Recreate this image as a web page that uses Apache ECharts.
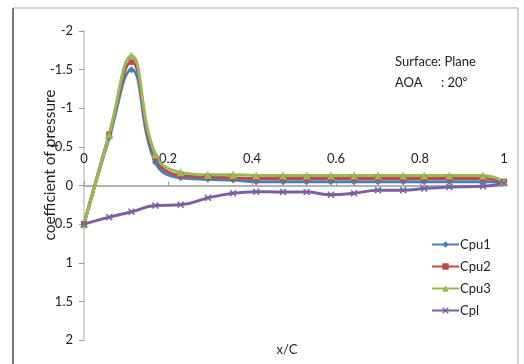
<!DOCTYPE html>
<html><head><meta charset="utf-8">
<script src="https://cdn.jsdelivr.net/npm/echarts@6/dist/echarts.min.js"></script>
<style>html,body{margin:0;padding:0;background:#fff}#c{width:524px;height:364px}</style>
</head><body><div id="c"></div>
<script>
const xPos = [0, 0.06, 0.113, 0.17, 0.23, 0.295, 0.355, 0.41, 0.474, 0.53, 0.588, 0.643, 0.70, 0.76, 0.81, 0.87, 0.95, 1.0];
const cpu1 = [0.5, -0.62, -1.5, -0.30, -0.10, -0.08, -0.07, -0.05, -0.05, -0.05, -0.05, -0.05, -0.05, -0.05, -0.05, -0.05, -0.05, -0.05];
const cpu2 = [0.5, -0.66, -1.6, -0.36, -0.13, -0.11, -0.10, -0.09, -0.09, -0.09, -0.09, -0.09, -0.09, -0.09, -0.09, -0.09, -0.09, -0.05];
const cpu3 = [0.5, -0.66, -1.68, -0.40, -0.17, -0.14, -0.14, -0.13, -0.13, -0.13, -0.13, -0.13, -0.13, -0.13, -0.13, -0.13, -0.13, -0.05];
const cpl  = [0.5, 0.41, 0.34, 0.26, 0.25, 0.16, 0.10, 0.08, 0.085, 0.085, 0.12, 0.10, 0.06, 0.06, 0.04, 0.02, 0.01, -0.03];
const xTicks = ['0', '0.2', '0.4', '0.6', '0.8', '1'];
const seriesNames = ['Cpu1', 'Cpu2', 'Cpu3', 'Cpl'];

const FONT = 'Lato';
const xMark = 'path://M0,1.5L1.5,0L5,3.5L8.5,0L10,1.5L6.5,5L10,8.5L8.5,10L5,6.5L1.5,10L0,8.5L3.5,5Z';
const pairs = ys => ys.map((v, i) => [xPos[i], v]);
function mk(name, ys, color, symbol, size) {
  return {
    name, type: 'line', data: pairs(ys), smooth: 0.45,
    symbol, symbolSize: size,
    lineStyle: { color, width: 3 }, itemStyle: { color },
    emphasis: { disabled: true }
  };
}
const chart = echarts.init(document.getElementById('c'), null, { renderer: 'canvas' });
chart.setOption({
  animation: false,
  textStyle: { fontFamily: FONT },
  grid: { left: 84, top: 31, width: 420, height: 309, containLabel: false },
  xAxis: {
    type: 'value', min: 0, max: 1, interval: 0.2, position: 'top', offset: -154.5,
    axisLine: { onZero: false, lineStyle: { color: '#999', width: 1.5 } },
    axisTick: { show: true, length: 4, lineStyle: { color: '#999' } },
    axisLabel: { margin: 20, color: '#222', fontSize: 13, fontFamily: FONT,
      formatter: v => xTicks[Math.round(v / 0.2)] },
    splitLine: { show: false }
  },
  yAxis: {
    type: 'value', min: -2, max: 2, interval: 0.5, inverse: true,
    axisLine: { show: true, onZero: false, lineStyle: { color: '#d4d4d4', width: 2 } },
    axisTick: { show: true, length: 5, lineStyle: { color: '#999' } },
    axisLabel: { margin: 11, color: '#222', fontSize: 13, fontFamily: FONT },
    splitLine: { show: false }
  },
  legend: {
    orient: 'vertical', left: 426, top: 233, itemWidth: 27, itemHeight: 8, itemGap: 9,
    textStyle: { fontSize: 13, color: '#222', fontFamily: FONT, padding: [0, 0, 0, -4] },
    data: seriesNames
  },
  series: [
    mk(seriesNames[0], cpu1, '#4A7EBB', 'diamond', 7),
    mk(seriesNames[1], cpu2, '#BE4B48', 'rect', 6),
    mk(seriesNames[2], cpu3, '#98B954', 'triangle', 8),
    mk(seriesNames[3], cpl, '#7D5FA0', xMark, 7)
  ],
  graphic: [
    { type: 'rect', shape: { x: 13, y: 8, width: 505, height: 370 }, style: { fill: 'none', stroke: '#a8a8a8', lineWidth: 1 }, z: -1 },
    { type: 'line', shape: { x1: 13, y1: 8, x2: 13, y2: 364 }, style: { stroke: '#777', lineWidth: 2 } },
    { type: 'text', x: 50, y: 165, rotation: Math.PI / 2, style: { text: 'coefficient of pressure', fontSize: 15.5, fontFamily: FONT, fill: '#222', align: 'center', verticalAlign: 'middle' } },
    { type: 'text', x: 287, y: 350, style: { text: 'x/C', fontSize: 13, fontFamily: FONT, fill: '#222', align: 'center', verticalAlign: 'middle' } },
    { type: 'text', x: 395, y: 62, style: { text: 'Surface: Plane', fontSize: 13, fontFamily: FONT, fill: '#222', verticalAlign: 'middle' } },
    { type: 'text', x: 395, y: 83, style: { text: 'AOA', fontSize: 13, fontFamily: FONT, fill: '#222', verticalAlign: 'middle' } },
    { type: 'text', x: 441, y: 83, style: { text: ': 20⁰', fontSize: 13, fontFamily: FONT, fill: '#222', verticalAlign: 'middle' } }
  ]
});
</script></body></html>
